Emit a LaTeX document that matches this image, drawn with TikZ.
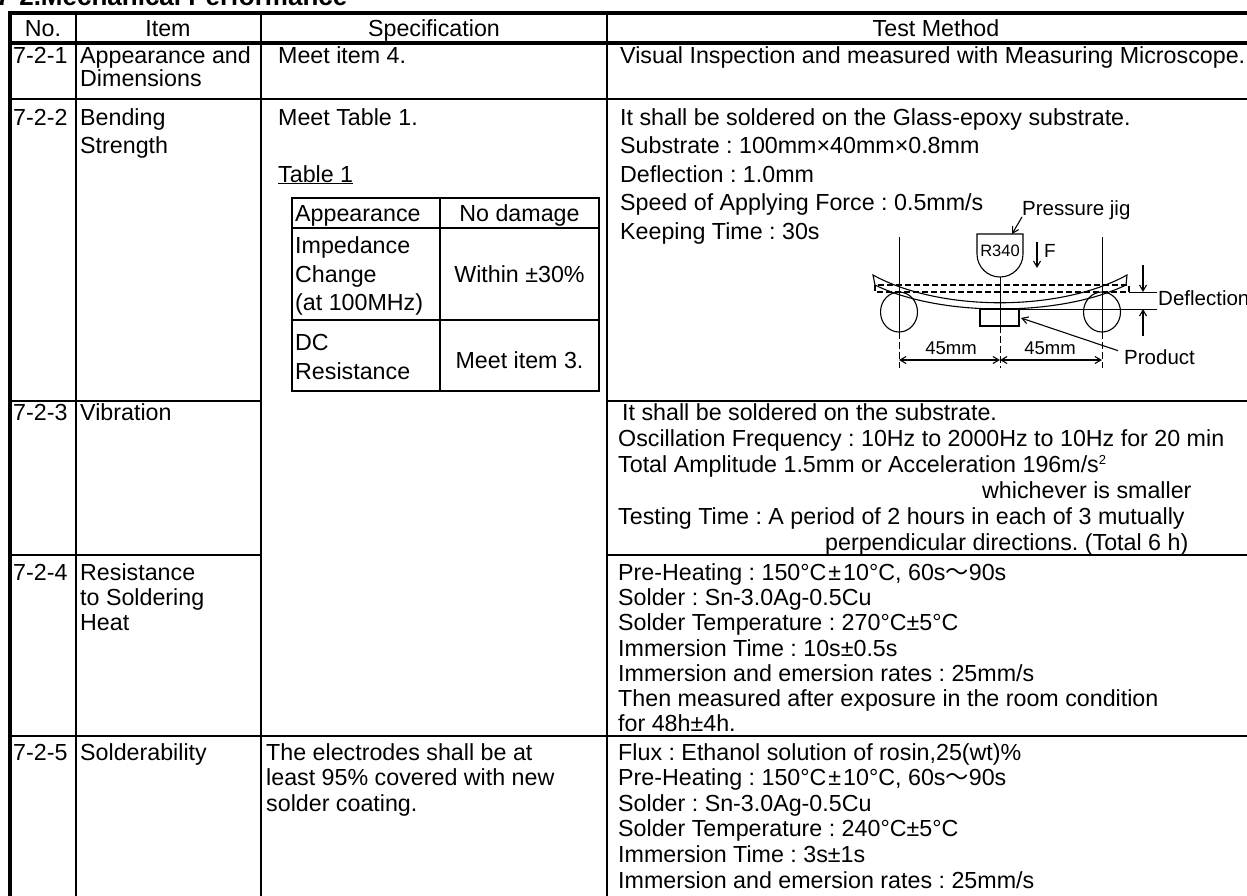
\documentclass[tikz,border=0pt]{standalone}
\usepackage{fontspec}
\setmainfont{Liberation Sans}
\newfontfamily\cjkfont{Noto Sans CJK JP}
\usetikzlibrary{arrows.meta}
\frenchspacing
\newcommand{\pmwide}{\kern2pt±\kern2pt}
\newcommand{\wavetilde}{{\cjkfont ～}}
\begin{document}
\begin{tikzpicture}[x=1pt,y=-1pt,
  body/.style={inner sep=0pt, font=\fontsize{23.25}{27}\selectfont\frenchspacing},
  lt/.style={body, anchor=base west},
  ct/.style={body, anchor=base},
  figtxt/.style={inner sep=0pt, anchor=base west, font=\fontsize{20.5}{24}\selectfont},
  gridline/.style={line width=2.4pt},
  borderline/.style={line width=4.5pt},
  innerline/.style={line width=2pt},
  fig/.style={line width=1.1pt},
  tip/.style={-{Straight Barb[length=6pt,width=7pt]}},
  dimtip/.style={{Straight Barb[length=6pt,width=7pt]}-{Straight Barb[length=6pt,width=7pt]}}
]
\useasboundingbox (0,0) rectangle (1247,895);

% title (mostly cut off at the top)
\node[inner sep=0pt, anchor=base west, font=\fontsize{26}{30}\selectfont\bfseries] (title) at (-4,5.5) {7-2.Mechanical Performance};

% ---------- table grid ----------
\draw[gridline] (76,13) -- (76,900);
\draw[gridline] (261,13) -- (261,900);
\draw[gridline] (607,13) -- (607,900);
\draw[gridline] (10,99) -- (1265,99);
\draw[gridline] (10,401) -- (261,401);
\draw[gridline] (607,401) -- (1265,401);
\draw[gridline] (10,555) -- (261,555);
\draw[gridline] (607,555) -- (1265,555);
\draw[gridline] (10,736) -- (1265,736);
\draw[borderline] (7.75,13) -- (1265,13);
\draw[borderline] (10,43) -- (1265,43);
\draw[borderline] (10,10.75) -- (10,900);

% ---------- header ----------
\node[ct] (hno) at (43,36) {No.};
\node[ct] (hitem) at (168,36) {Item};
\node[ct] (hspec) at (434,36) {Specification};
\node[ct] (htest) at (936,36) {Test Method};

% ---------- 7-2-1 ----------
\node[lt] (n1) at (13,63) {7-2-1};
\node[lt] (i1a) at (80,63) {Appearance and};
\node[lt] (i1b) at (80,86) {Dimensions};
\node[lt] (s1) at (278,63) {Meet item 4.};
\node[lt] (t1) at (620,63) {Visual Inspection and measured with Measuring Microscope.};

% ---------- 7-2-2 ----------
\node[lt] (n2) at (13,125) {7-2-2};
\node[lt] (i2a) at (80,125) {Bending};
\node[lt] (i2b) at (80,153) {Strength};
\node[lt] (s2a) at (278,125) {Meet Table 1.};
\node[lt] (s2b) at (278,182) {\underline{Table 1}};
\node[lt] (t2a) at (620,125) {It shall be soldered on the Glass-epoxy substrate.};
\node[lt] (t2b) at (620,153) {Substrate : 100mm×40mm×0.8mm};
\node[lt] (t2c) at (620,182) {Deflection : 1.0mm};
\node[lt] (t2d) at (620,210) {Speed of Applying Force : 0.5mm/s};
\node[lt] (t2e) at (620,239) {Keeping Time : 30s};

% inner Table 1
\draw[innerline] (292,198) rectangle (599,391);
\draw[innerline] (292,228) -- (599,228);
\draw[innerline] (292,320) -- (599,320);
\draw[innerline] (440,198) -- (440,391);
\node[lt] (ta1) at (295,221) {Appearance};
\node[ct] (tb1) at (519.5,221) {No damage};
\node[lt] (ta2) at (295,253) {Impedance};
\node[lt] (ta3) at (295,282) {Change};
\node[lt] (ta4) at (295,310) {(at 100MHz)};
\node[ct] (tb2) at (519.5,282) {Within ±30\%};
\node[lt] (ta5) at (295,350) {DC};
\node[lt] (ta6) at (295,379) {Resistance};
\node[ct] (tb3) at (519.5,368) {Meet item 3.};

% bending test figure
\node[figtxt] (pj) at (1022,215) {Pressure jig};
\coordinate (jigtop) at (1012,234);
\draw[fig] (977,234) -- (1023,234) -- (1023,254)
  .. controls (1023,266.7) and (1012.7,277) .. (1000,277)
  .. controls (987.3,277) and (977,266.7) .. (977,254) -- cycle;
\draw[fig,tip] (pj.north west) ++(0,17) -- (jigtop);
\node[inner sep=0pt, anchor=base, font=\fontsize{16.5}{18}\selectfont] (r340) at (1000,256) {R340};
\coordinate (fa) at (1037,242);
\coordinate (fb) at (1037,268);
\draw[fig,tip] (fa) -- (fb);
\node[inner sep=0pt, anchor=base west, font=\fontsize{19}{22}\selectfont] (force) at (1044,257) {F};
% beam (bent)
\draw[fig] (873,275) .. controls (940,312) and (1060,312) .. (1127,275)
  -- (1126,285) .. controls (1060,317) and (940,317) .. (875,285) -- cycle;
% undeflected substrate
\draw[fig,dash pattern=on 6pt off 3pt] (875,285) rectangle (1129,292);
% supports
\draw[fig] (899,312) ellipse [x radius=18.5pt, y radius=20pt];
\draw[fig] (1102,312) ellipse [x radius=18.5pt, y radius=20pt];
% product
\draw[fig] (980,309) rectangle (1019,326);
% extension lines
\draw[line width=0.9pt] (899,237) -- (899,332);
\draw[line width=0.9pt,dash pattern=on 7pt off 3pt] (899,332) -- (899,368);
\draw[line width=0.9pt] (1102,237) -- (1102,332);
\draw[line width=0.9pt,dash pattern=on 7pt off 3pt] (1102,332) -- (1102,368);
\draw[line width=0.9pt] (1000,277) -- (1000,326);
\draw[line width=0.9pt,dash pattern=on 7pt off 3pt] (1000,326) -- (1000,368);
% 45mm dimensions
\coordinate (dl) at (899,360);
\coordinate (dm) at (1000,360);
\coordinate (dr) at (1102,360);
\draw[fig,dimtip] (dl) -- (dm);
\draw[fig,dimtip] (dm) -- (dr);
\node[inner sep=0pt, anchor=base, font=\fontsize{18.5}{22}\selectfont] (d45a) at (951,354) {45mm};
\node[inner sep=0pt, anchor=base, font=\fontsize{18.5}{22}\selectfont] (d45b) at (1050,354) {45mm};
% product label
\node[figtxt] (prod) at (1124,364) {Product};
\coordinate (prodpt) at (1021,318);
\draw[fig,tip] (prod.west) ++(-6,-6) -- (prodpt);
% deflection
\draw[line width=0.9pt] (1129,292) -- (1157,292);
\draw[line width=0.9pt] (1019,309) -- (1157,309);
\coordinate (dfa) at (1143,265);
\coordinate (dfb) at (1143,292);
\coordinate (dfc) at (1143,336);
\coordinate (dfd) at (1143,309);
\draw[fig,tip] (dfa) -- (dfb);
\draw[fig,tip] (dfc) -- (dfd);
\node[figtxt] (defl) at (1158,305) {Deflection};

% ---------- 7-2-3 ----------
\node[lt] (n3) at (13,420) {7-2-3};
\node[lt] (i3) at (80,420) {Vibration};
\node[lt] (t3a) at (622,420) {It shall be soldered on the substrate.};
\node[lt] (t3b) at (618,446) {Oscillation Frequency : 10Hz to 2000Hz to 10Hz for 20 min};
\node[lt] (t3c) at (618,472) {Total Amplitude 1.5mm or Acceleration 196m/s\raisebox{8pt}{\fontsize{13}{13}\selectfont 2}};
\node[lt] (t3d) at (982,498) {whichever is smaller};
\node[lt] (t3e) at (618,524) {Testing Time : A period of 2 hours in each of 3 mutually};
\node[lt] (t3f) at (825,550) {perpendicular directions. (Total 6 h)};

% ---------- 7-2-4 ----------
\node[lt] (n4) at (13,580) {7-2-4};
\node[lt] (i4a) at (80,580) {Resistance};
\node[lt] (i4b) at (80,605) {to Soldering};
\node[lt] (i4c) at (80,630) {Heat};
\node[lt] (t4a) at (618,580) {Pre-Heating : 150°C\pmwide 10°C, 60s\wavetilde 90s};
\node[lt] (t4b) at (618,605) {Solder : Sn-3.0Ag-0.5Cu};
\node[lt] (t4c) at (618,630) {Solder Temperature : 270°C±5°C};
\node[lt] (t4d) at (618,656) {Immersion Time : 10s±0.5s};
\node[lt] (t4e) at (618,681) {Immersion and emersion rates : 25mm/s};
\node[lt] (t4f) at (618,706) {Then measured after exposure in the room condition};
\node[lt] (t4g) at (618,731) {for 48h±4h.};

% ---------- 7-2-5 ----------
\node[lt] (n5) at (13,760) {7-2-5};
\node[lt] (i5) at (80,760) {Solderability};
\node[lt] (s5a) at (266,760) {The electrodes shall be at};
\node[lt] (s5b) at (266,785) {least 95\% covered with new};
\node[lt] (s5c) at (266,811) {solder coating.};
\node[lt] (t5a) at (618,760) {Flux : Ethanol solution of rosin,25(wt)\%};
\node[lt] (t5b) at (618,785) {Pre-Heating : 150°C\pmwide 10°C, 60s\wavetilde 90s};
\node[lt] (t5c) at (618,811) {Solder : Sn-3.0Ag-0.5Cu};
\node[lt] (t5d) at (618,836) {Solder Temperature : 240°C±5°C};
\node[lt] (t5e) at (618,862) {Immersion Time : 3s±1s};
\node[lt] (t5f) at (618,888) {Immersion and emersion rates : 25mm/s};
\end{tikzpicture}
\end{document}
